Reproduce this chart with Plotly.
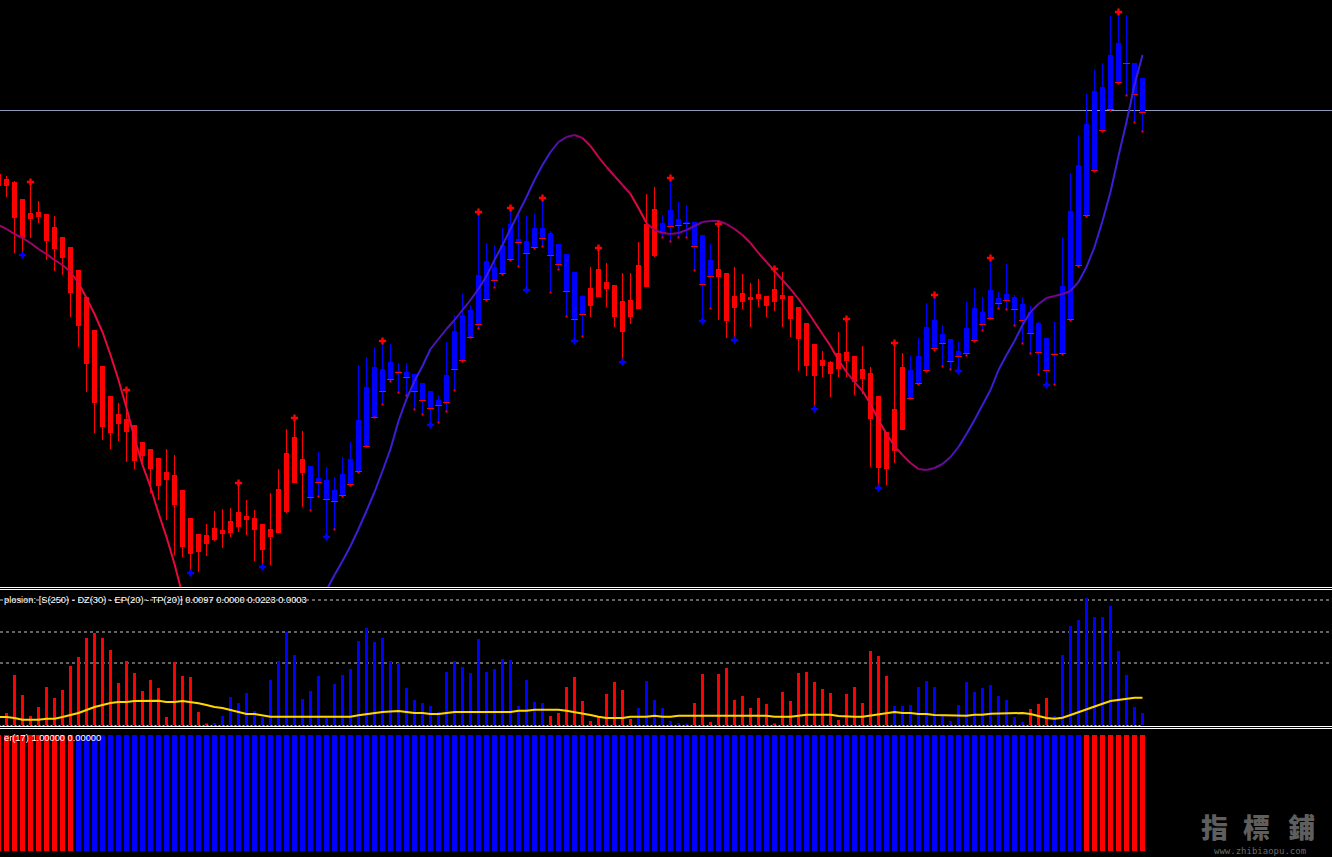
import plotly.graph_objects as go

W, H = 1332, 857

# ---------------- data (bar numbers, prices in chart points) ----------------
BAR_NO = list(range(-1, 143))

HIGH = [427, 424, 419, 401, 418, 399, 386, 384, 363, 353,
        330, 303, 270, 234, 204, 197, 210, 175, 158, 151,
        142, 151, 145, 110, 82, 66, 76, 89, 91, 92,
        117, 100, 90, 76, 107, 131, 171, 182, 169, 134,
        148, 133, 123, 143, 158, 235, 243, 253, 259, 256,
        237, 237, 226, 217, 209, 205, 258, 285, 306, 295,
        388, 357, 355, 372, 392, 385, 384, 386, 402, 369,
        356, 346, 328, 305, 333, 352, 337, 315, 327, 327,
        358, 406, 413, 385, 422, 398, 395, 378, 365, 356,
        376, 327, 333, 326, 317, 321, 304, 331, 328, 304,
        293, 277, 256, 249, 239, 268, 281, 244, 254, 233,
        204, 168, 257, 247, 244, 262, 297, 305, 275, 261,
        258, 298, 312, 303, 342, 308, 336, 305, 303, 294,
        278, 262, 278, 362, 427, 465, 506, 530, 537, 584,
        588, 585, 537, 522]

BODY_HI = [426, 421, 418, 401, 387, 388, 386, 373, 363, 353,
           330, 303, 270, 234, 204, 186, 181, 175, 158, 151,
           142, 128, 125, 110, 82, 66, 65, 72, 70, 79,
           88, 84, 82, 76, 71, 111, 147, 163, 141, 134,
           122, 120, 110, 126, 141, 180, 213, 233, 231, 238,
           229, 228, 226, 217, 209, 200, 225, 269, 285, 290,
           325, 339, 333, 355, 376, 361, 359, 372, 372, 367,
           356, 346, 328, 304, 312, 331, 318, 315, 299, 300,
           335, 376, 391, 377, 390, 381, 378, 378, 365, 340,
           331, 327, 304, 307, 303, 306, 304, 311, 305, 304,
           293, 277, 256, 240, 238, 247, 248, 244, 231, 227,
           204, 168, 191, 233, 230, 244, 273, 280, 266, 261,
           249, 272, 292, 288, 310, 302, 306, 303, 296, 288,
           277, 262, 247, 314, 389, 435, 476, 509, 513, 545,
           557, 537, 537, 522]

BODY_LO = [414, 414, 382, 362, 381, 383, 359, 351, 342, 307,
           274, 236, 197, 173, 167, 176, 168, 139, 144, 131,
           114, 120, 95, 53, 46, 48, 56, 60, 66, 67,
           73, 80, 70, 50, 63, 67, 88, 117, 127, 102,
           117, 100, 98, 104, 115, 128, 153, 182, 208, 220,
           227, 222, 208, 199, 191, 194, 197, 230, 239, 262,
           275, 300, 319, 326, 340, 357, 346, 352, 361, 344,
           335, 308, 280, 285, 294, 303, 311, 283, 268, 283,
           291, 313, 344, 367, 373, 374, 376, 353, 315, 323,
           323, 279, 292, 298, 300, 301, 294, 298, 301, 281,
           261, 234, 224, 234, 226, 231, 239, 218, 221, 181,
           132, 131, 149, 170, 201, 216, 229, 251, 256, 238,
           243, 246, 259, 275, 281, 296, 299, 290, 279, 266,
           247, 229, 245, 246, 280, 334, 384, 429, 469, 490,
           517, 536, 505, 487]

LOW = [412, 403, 347, 345, 362, 377, 340, 329, 325, 283,
       253, 208, 167, 160, 151, 159, 138, 131, 133, 107,
       100, 80, 45, 43, 27, 28, 44, 59, 52, 63,
       68, 65, 39, 33, 35, 67, 87, 117, 93, 89,
       103, 63, 70, 103, 114, 127, 153, 182, 195, 218,
       207, 204, 190, 185, 175, 177, 188, 209, 238, 262,
       271, 299, 312, 325, 339, 333, 310, 351, 353, 307,
       330, 283, 259, 263, 283, 303, 293, 273, 238, 276,
       291, 313, 343, 362, 358, 362, 362, 329, 279, 291,
       280, 262, 260, 291, 273, 293, 283, 289, 273, 263,
       229, 224, 191, 223, 203, 223, 223, 205, 206, 133,
       112, 115, 137, 170, 201, 215, 228, 249, 233, 230,
       229, 244, 258, 269, 281, 291, 290, 274, 256, 246,
       225, 215, 215, 245, 279, 333, 383, 428, 468, 489,
       516, 504, 477, 468]

CANDLE_RUNS = [("R", 39), ("B", 35), ("R", 9), ("B", 7), ("R", 24), ("B", 30)]

TREND_LINE = ([375, 371, 366, 362, 357, 351, 346, 340, 335, 328,
               317, 302, 286, 268, 245, 220, 192, 162, 135, 113,
               87, 63, 36, 5] + [None] * 16 +
              [-3, 10, 25, 39, 54, 71, 89, 108, 129, 151,
               179, 201, 219, 234, 251, 261, 271, 280, 290, 300,
               311, 324, 340, 355, 371, 387, 403, 420, 435, 448,
               458, 463, 465, 462, 454, 443, 433, 424, 415, 406,
               392, 377, 370, 367, 366, 367, 370, 374, 378, 379,
               379, 376, 371, 365, 357, 347, 338, 329, 320, 311,
               301, 290, 278, 266, 254, 240, 228, 218, 209, 196,
               180, 166, 154, 145, 137, 131, 130, 132, 136, 143,
               153, 166, 180, 195, 210, 230, 245, 259, 275, 288,
               296, 302, 304, 306, 309, 318, 333, 353, 379, 408,
               444, 478, 515, 545])

UP_MARK_BARS = [3, 15, 29, 36, 47, 59, 63, 67, 74, 83, 89, 96, 105, 111, 116, 123, 139]
DOWN_MARK_BARS = [2, 23, 32, 40, 53, 65, 71, 77, 87, 91, 101, 109, 119, 130]
RESIST_LEVEL = 489.5

EXPLOSION = [0, 12, 50, 30, 9, 18, 38, 27, 35, 59,
             68, 87, 92, 87, 75, 42, 64, 52, 34, 45,
             37, 8, 63, 49, 48, 13, 1, 2, 9, 28,
             22, 32, 14, 8, 45, 64, 93, 70, 26, 34,
             49, 7, 41, 50, 56, 84, 97, 83, 87, 64,
             62, 37, 25, 22, 19, 13, 53, 64, 58, 52,
             86, 53, 56, 66, 65, 19, 45, 23, 22, 9,
             12, 38, 48, 24, 4, 8, 31, 43, 35, 6,
             17, 44, 25, 17, 4, 2, 1, 22, 51, 3,
             51, 57, 25, 29, 17, 27, 21, 1, 33, 24,
             52, 53, 43, 36, 32, 5, 31, 38, 22, 74,
             69, 49, 19, 19, 20, 38, 44, 38, 9, 4,
             20, 43, 33, 37, 40, 29, 25, 8, 3, 16,
             21, 27, 9, 70, 99, 105, 127, 108, 108, 119,
             74, 50, 18, 12]
EXPL_RUNS = [("R", 27), ("B", 42), ("R", 11), ("B", 7), ("R", 25), ("B", 17), ("R", 3), ("B", 12)]
DEAD_ZONE = [8, 8, 7, 5.3, 5.3, 5.3, 6.3, 6.3, 8, 10,
             12, 15, 18, 20, 22, 23, 23, 24, 24.3, 24.3,
             24.3, 23, 23, 24, 23, 21.7, 20, 18, 17, 15,
             13, 11, 11, 9.7, 8.3, 8.3, 8.3, 8.3, 8.3, 8.3,
             8.3, 8.3, 8.3, 7.7, 8.3, 9.7, 11, 12, 13, 13.5,
             14, 13, 12, 12, 11, 11, 12, 13, 13, 13,
             13, 13, 13, 13, 13, 14.3, 14.3, 15.3, 15.3, 15.3,
             15.3, 14.3, 13, 11.7, 10, 8.3, 7, 7, 7, 8.3,
             8.3, 8.3, 9.3, 8.3, 8.3, 9.3, 9.3, 9.3, 9.3, 9.3,
             9.3, 9.3, 9.3, 9.3, 9.3, 9.3, 9.3, 8.3, 8.3, 8.3,
             9.3, 10.3, 10.3, 10.3, 10.3, 9, 8.3, 8.3, 8.3, 9.3,
             10.7, 12, 13, 12, 12, 11, 11, 10, 10, 9.3,
             9.3, 9.3, 10.3, 10.3, 11.3, 11.3, 12, 12, 12, 11,
             9, 7, 6.3, 7.3, 10, 13, 16, 19, 21.3, 24,
             25.3, 26.3, 27.3, 27.3]
EXPL_LEVELS = [62, 93, 125]
EXPL_TITLE = "plosion: [S(250) - DZ(30) - EP(20) - TP(20)] 0.0097 0.0000 0.0223 0.0003"

FILTER_RUNS = [("R", 10), ("B", 126), ("R", 8)]
FILTER_VALUE = 1.0
FILTER_TITLE = "er(17) 1.00000 0.00000"

# ---------------- styling ----------------
RED, BLUE = "#ff0000", "#0000ff"
COL = {"R": RED, "B": BLUE}


def expand(runs):
    out = []
    for c, n in runs:
        out += [c] * n
    return out


def py(pix):  # pixel row -> paper fraction
    return 1 - pix / H


candle_col = expand(CANDLE_RUNS)
expl_col = expand(EXPL_RUNS)
filt_col = expand(FILTER_RUNS)

fig = go.Figure()

# wicks and bodies
for c in ("R", "B"):
    idx = [i for i, cc in enumerate(candle_col) if cc == c]
    wx, wy = [], []
    for i in idx:
        wx += [BAR_NO[i], BAR_NO[i], None]
        wy += [LOW[i], HIGH[i], None]
    fig.add_trace(go.Scatter(x=wx, y=wy, mode="lines", line=dict(color=COL[c], width=1),
                             hoverinfo="skip", xaxis="x", yaxis="y"))
    fig.add_trace(go.Bar(x=[BAR_NO[i] for i in idx],
                         y=[max(BODY_HI[i] - BODY_LO[i], 1) for i in idx],
                         base=[BODY_LO[i] for i in idx], width=0.625,
                         marker=dict(color=COL[c], line=dict(width=0)),
                         xaxis="x", yaxis="y"))

# red ticks on blue candles (body bottom + low)
bidx = [i for i, cc in enumerate(candle_col) if cc == "B"]
fig.add_trace(go.Scatter(x=[BAR_NO[i] for i in bidx], y=[BODY_LO[i] + 0.5 for i in bidx],
                         mode="markers", marker=dict(symbol="line-ew", size=5,
                                                     line=dict(color=RED, width=1)),
                         xaxis="x", yaxis="y"))
fig.add_trace(go.Scatter(x=[BAR_NO[i] for i in bidx], y=[LOW[i] + 0.5 for i in bidx],
                         mode="markers", marker=dict(symbol="square", size=2, color=RED,
                                                     line=dict(width=0)),
                         xaxis="x", yaxis="y"))


# trend curve coloured by slope
def slope_color(s):
    t = max(-1.0, min(1.0, s / 14.0))
    c0 = (128, 0, 128)
    c1 = (230, 10, 60) if t < 0 else (60, 30, 215)
    a = abs(t)
    return "rgb(%d,%d,%d)" % tuple(round(c0[j] + (c1[j] - c0[j]) * a) for j in range(3))


for i in range(len(TREND_LINE) - 1):
    a, b = TREND_LINE[i], TREND_LINE[i + 1]
    if a is None or b is None:
        continue
    fig.add_trace(go.Scatter(x=[BAR_NO[i], BAR_NO[i + 1]], y=[a, b], mode="lines",
                             line=dict(color=slope_color(b - a), width=2),
                             hoverinfo="skip", xaxis="x", yaxis="y"))

# fractal-style marks
fig.add_trace(go.Scatter(x=UP_MARK_BARS, y=[HIGH[BAR_NO.index(k)] for k in UP_MARK_BARS],
                         mode="markers", marker=dict(symbol="cross", size=6, color=RED,
                                                     line=dict(width=0)),
                         xaxis="x", yaxis="y"))
fig.add_trace(go.Scatter(x=DOWN_MARK_BARS, y=[LOW[BAR_NO.index(k)] for k in DOWN_MARK_BARS],
                         mode="markers", marker=dict(symbol="cross", size=6, color=BLUE,
                                                     line=dict(width=0)),
                         xaxis="x", yaxis="y"))

# explosion histogram panel
for c in ("R", "B"):
    idx = [i for i, cc in enumerate(expl_col) if cc == c]
    fig.add_trace(go.Bar(x=[BAR_NO[i] for i in idx], y=[EXPLOSION[i] for i in idx],
                         width=0.375, marker=dict(color=COL[c], line=dict(width=0)),
                         xaxis="x2", yaxis="y2"))
fig.add_trace(go.Scatter(x=BAR_NO, y=DEAD_ZONE, mode="lines",
                         line=dict(color="#ffd700", width=2), xaxis="x2", yaxis="y2"))
fig.add_trace(go.Scatter(x=BAR_NO, y=[-0.5] * len(BAR_NO), mode="lines",
                         line=dict(color="#20e8ff", width=1, dash="2px,2px"),
                         xaxis="x2", yaxis="y2"))

# filter histogram panel
for c in ("R", "B"):
    idx = [i for i, cc in enumerate(filt_col) if cc == c]
    fig.add_trace(go.Bar(x=[BAR_NO[i] for i in idx], y=[FILTER_VALUE] * len(idx),
                         width=0.625, marker=dict(color=COL[c], line=dict(width=0)),
                         xaxis="x3", yaxis="y3"))

XR = [-6.5 / 8, (W - 6.5) / 8]
ax = dict(visible=False, showgrid=False, zeroline=False, fixedrange=True)

shapes = []
for lv in EXPL_LEVELS:
    shapes.append(dict(type="line", xref="paper", x0=0, x1=1, yref="y2", y0=lv, y1=lv,
                       line=dict(color="#c8c8c8", width=1, dash="3px,3px"), layer="below"))
shapes.append(dict(type="line", xref="paper", x0=0, x1=1, yref="y", y0=RESIST_LEVEL,
                   y1=RESIST_LEVEL, line=dict(color="#8e9ab8", width=1), layer="below"))
for pr in (587.5, 589.5, 726.5, 728.5):
    shapes.append(dict(type="line", xref="paper", x0=0, x1=1, yref="paper", y0=py(pr), y1=py(pr),
                       line=dict(color="#ffffff", width=1)))

ann = [
    dict(text=EXPL_TITLE, x=1.5 / W, y=py(600), xanchor="left", yanchor="middle",
         font=dict(family="Liberation Sans", size=9.3, color="#ffffff")),
    dict(text=FILTER_TITLE, x=2 / W, y=py(738), xanchor="left", yanchor="middle",
         font=dict(family="Liberation Sans", size=9.3, color="#ffffff")),
]
for ch, cx in zip("指標鋪", (1214, 1256, 1301)):
    ann.append(dict(text=ch, x=cx / W, y=py(826), xanchor="center", yanchor="middle",
                    font=dict(family="Noto Sans CJK TC", size=27, color="#5e5e5e", weight=900)))
ann.append(dict(text="www.zhibiaopu.com", x=1260 / W, y=py(850.5), xanchor="center",
                yanchor="middle", font=dict(family="DejaVu Sans Mono", size=9, color="#6a6a6a")))
for a in ann:
    a.update(xref="paper", yref="paper", showarrow=False)

fig.update_layout(
    width=W, height=H, margin=dict(l=0, r=0, t=0, b=0, pad=0),
    paper_bgcolor="#000000", plot_bgcolor="#000000", showlegend=False, barmode="overlay",
    xaxis=dict(ax, range=XR, domain=[0, 1], anchor="y"),
    yaxis=dict(ax, range=[13, 600], domain=[py(587), 1], anchor="x"),
    xaxis2=dict(ax, range=XR, domain=[0, 1], anchor="y2"),
    yaxis2=dict(ax, range=[-1, 134.5], domain=[py(726), py(590.5)], anchor="x2"),
    xaxis3=dict(ax, range=XR, domain=[0, 1], anchor="y3"),
    yaxis3=dict(ax, range=[-6 / 116, 1 + 5 / 116], domain=[0, py(730)], anchor="x3"),
    shapes=shapes, annotations=ann, hovermode=False,
)

fig.write_html("out.html", config={"displayModeBar": False},
               post_script="document.body.style.margin='0px';document.body.style.background='#000';"
                           "document.body.style.overflow='hidden';")
